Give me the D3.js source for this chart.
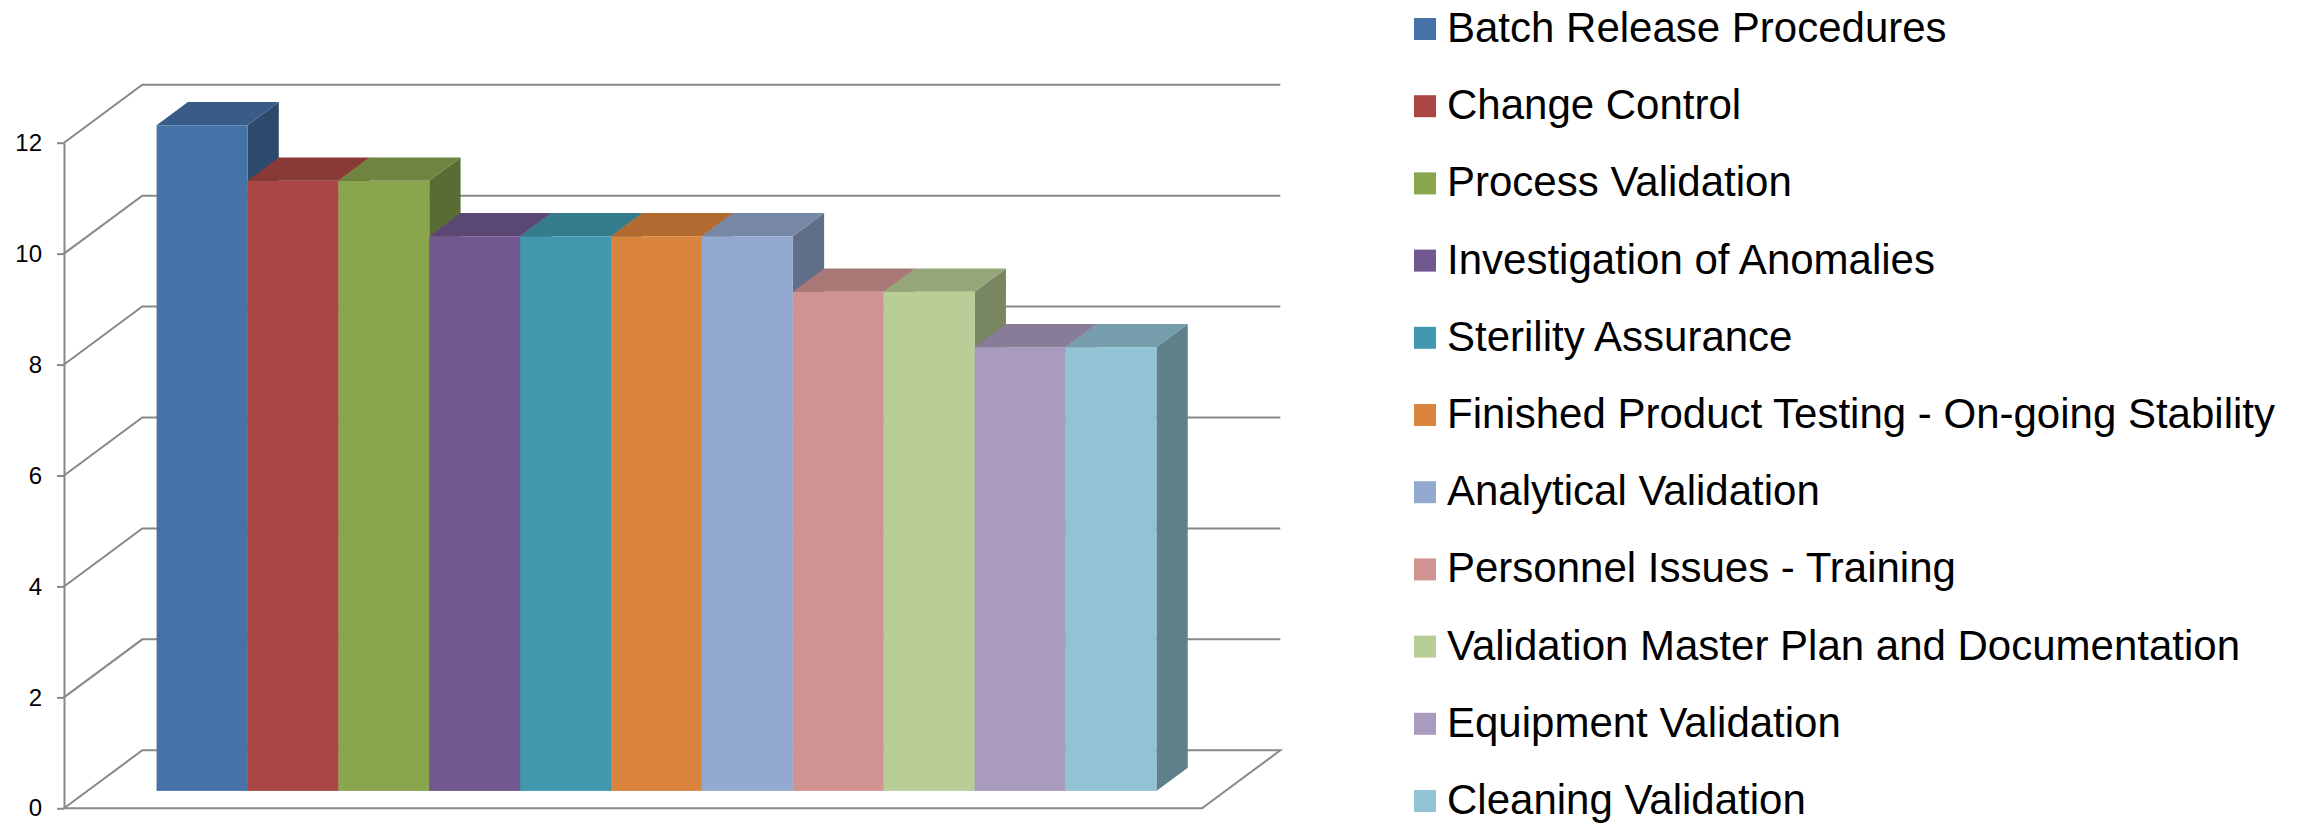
<!DOCTYPE html>
<html>
<head>
<meta charset="utf-8">
<script src="https://cdn.jsdelivr.net/npm/d3@7"></script>
<style>
  body { margin: 0; background: #fff; }
  svg { display: block; font-family: "Liberation Sans", Arial, sans-serif; }
</style>
</head>
<body>
<script>
var categories = ["Batch Release Procedures", "Change Control", "Process Validation",
    "Investigation of Anomalies", "Sterility Assurance",
    "Finished Product Testing - On-going Stability", "Analytical Validation",
    "Personnel Issues - Training", "Validation Master Plan and Documentation",
    "Equipment Validation", "Cleaning Validation"];
var values = [12, 11, 11, 10, 10, 10, 10, 9, 9, 8, 8];
var colors = ["#4572A7", "#AA4643", "#89A54E", "#71588F", "#4198AF", "#DB843D",
    "#93A9CF", "#D19392", "#B9CD96", "#A99BBD", "#92C3D5"];
var yTicks = [0, 2, 4, 6, 8, 10, 12];

var w = 2320, h = 823;
var plotLeft = 64, plotRight = 1202, plotBottom = 808.3, plotTop = 142.7;
var depthX = 78.3, depthY = 58;      // full depth of the floor / walls
var barFront = 0.3, barDepth = 0.4;  // bar position inside the depth

var svg = d3.select("body").append("svg")
    .attr("width", w)
    .attr("height", h);

var x = d3.scaleBand()
    .domain(categories)
    .range([plotLeft, plotRight])
    .paddingInner(0)
    .paddingOuter(0.76);

var y = d3.scaleLinear()
    .domain([0, 12])
    .range([plotBottom, plotTop]);

var grid = svg.append("g")
    .attr("fill", "none")
    .attr("stroke", "#888")
    .attr("stroke-width", 2);

// side wall + back wall lines
yTicks.forEach(function(v) {
    if (v === 0) return;
    grid.append("path")
        .attr("d", "M" + plotLeft + "," + y(v) +
            "L" + (plotLeft + depthX) + "," + (y(v) - depthY) +
            "L" + (plotRight + depthX) + "," + (y(v) - depthY));
});

// floor
grid.append("path")
    .attr("d", "M" + plotLeft + "," + y(0) +
        "L" + (plotLeft + depthX) + "," + (y(0) - depthY) +
        "L" + (plotRight + depthX) + "," + (y(0) - depthY) +
        "L" + plotRight + "," + y(0) + "Z");

// bars, painted left to right
var fx = barFront * depthX, fy = barFront * depthY;
var bx = barDepth * depthX, by = barDepth * depthY;

var bars = svg.append("g").selectAll("g")
    .data(categories)
    .enter()
    .append("g");

bars.each(function(d, i) {
    var g = d3.select(this);
    var x0 = x(d) + fx, x1 = x0 + x.bandwidth();
    var y0 = y(0) - fy, y1 = y(values[i]) - fy;
    var c = d3.color(colors[i]);

    g.append("path")
        .attr("d", "M" + x1 + "," + y0 + "L" + (x1 + bx) + "," + (y0 - by) +
            "L" + (x1 + bx) + "," + (y1 - by) + "L" + x1 + "," + y1 + "Z")
        .attr("fill", c.darker(1.2));

    g.append("path")
        .attr("d", "M" + x0 + "," + y1 + "L" + (x0 + bx) + "," + (y1 - by) +
            "L" + (x1 + bx) + "," + (y1 - by) + "L" + x1 + "," + y1 + "Z")
        .attr("fill", c.darker(0.6));

    g.append("rect")
        .attr("x", x0)
        .attr("y", y1)
        .attr("width", x.bandwidth())
        .attr("height", y0 - y1)
        .attr("fill", colors[i]);
});

// value axis
var axis = svg.append("g")
    .attr("transform", "translate(" + plotLeft + ",0)")
    .call(d3.axisLeft(y).tickValues(yTicks).tickSize(7).tickSizeOuter(0).tickPadding(15));

axis.select(".domain").attr("stroke", "#888").attr("stroke-width", 2);
axis.selectAll(".tick line").attr("stroke", "#888").attr("stroke-width", 2);
axis.selectAll(".tick text")
    .attr("font-family", "Liberation Sans, Arial, sans-serif")
    .attr("font-size", 24)
    .attr("fill", "#000");

// legend
var legend = svg.append("g").selectAll("g")
    .data(categories)
    .enter()
    .append("g")
    .attr("transform", function(d, i) { return "translate(1414," + (29 + i * 77.2) + ")"; });

legend.append("rect")
    .attr("y", -11)
    .attr("width", 22)
    .attr("height", 22)
    .attr("fill", function(d, i) { return colors[i]; });

legend.append("text")
    .attr("x", 33)
    .attr("y", 13)
    .attr("font-size", 42)
    .attr("fill", "#000")
    .text(function(d) { return d; });
</script>
</body>
</html>
